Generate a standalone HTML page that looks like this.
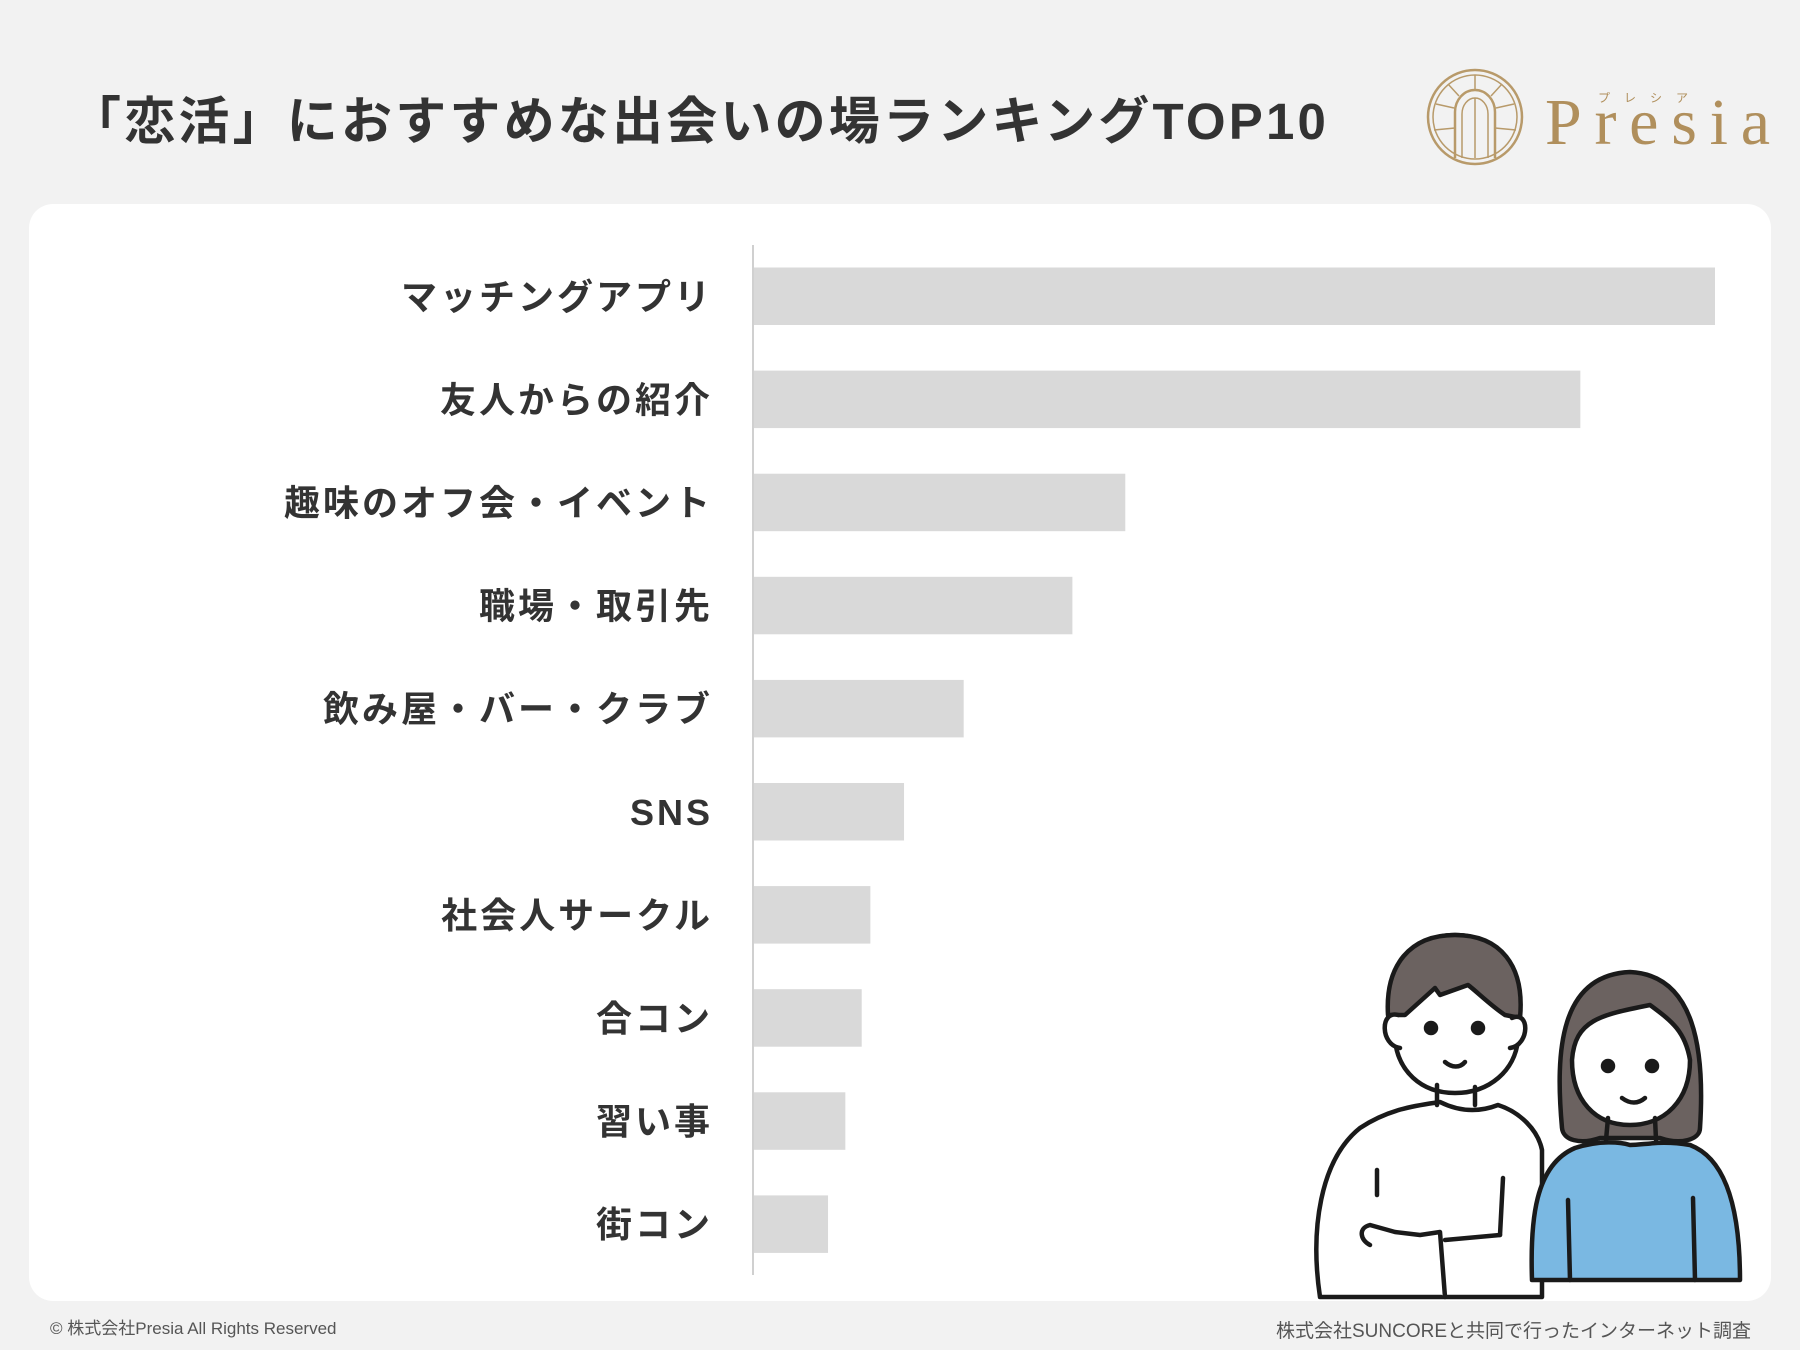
<!DOCTYPE html>
<html><head><meta charset="utf-8"><style>
html,body{margin:0;padding:0;}
body{width:1800px;height:1350px;background:#f2f2f2;position:relative;overflow:hidden;font-family:"Liberation Sans","Noto Sans CJK JP",sans-serif;}
#title{position:absolute;left:70px;top:80px;font-size:51px;font-weight:bold;color:#333;letter-spacing:3.2px;white-space:nowrap;}
#card{position:absolute;left:29px;top:204px;width:1742px;height:1097px;background:#fff;border-radius:24px;}
.foot{position:absolute;font-size:17px;color:#555;white-space:nowrap;}
svg{position:absolute;left:0;top:0;}
</style></head><body>
<div id="title">「恋活」におすすめな出会いの場ランキングTOP10</div>
<div id="card"></div>
<div class="foot" style="left:50px;top:1314px;">© 株式会社Presia All Rights Reserved</div>
<div class="foot" style="right:49px;top:1316px;font-size:19px;">株式会社SUNCOREと共同で行ったインターネット調査</div>
<svg id="chart" width="1800" height="1350">
 <g id="logo" stroke="#b89a6a" fill="none" stroke-width="2.5">
  <circle cx="1475" cy="117" r="47"/>
  <circle cx="1475" cy="117" r="42" stroke-width="1.5"/>
  <path d="M1455 158 V112 A20 22 0 0 1 1495 112 V158"/>
  <path d="M1462 158 V114 A13 16 0 0 1 1488 114 V158" stroke-width="1.5"/>
  <line x1="1475" y1="98" x2="1475" y2="158" stroke-width="1.5"/>
  <line x1="1475" y1="75" x2="1475" y2="90" stroke-width="1.5"/>
  <line x1="1436" y1="104" x2="1454" y2="108" stroke-width="1.5"/>
  <line x1="1514" y1="104" x2="1496" y2="108" stroke-width="1.5"/>
  <line x1="1448" y1="84" x2="1459" y2="96" stroke-width="1.5"/>
  <line x1="1502" y1="84" x2="1491" y2="96" stroke-width="1.5"/>
  <line x1="1434" y1="130" x2="1455" y2="128" stroke-width="1.5"/>
  <line x1="1516" y1="130" x2="1495" y2="128" stroke-width="1.5"/>
 </g>
 <text x="1545" y="144" font-family="Liberation Serif,serif" font-size="66" fill="#b08f5c" textLength="225">Presia</text>
 <text x="1598" y="102" font-family="Liberation Sans,'Noto Sans CJK JP',sans-serif" font-size="12" fill="#b08f5c" letter-spacing="14">プレシア</text>
 <g id="bars"></g>
 <line x1="753" y1="245" x2="753" y2="1275" stroke="#d0d0d0" stroke-width="2"/>
 <g id="people" stroke="#1a1a1a" stroke-width="4.5" stroke-linecap="round" stroke-linejoin="round">
  <path d="M1320 1297 C1310 1230 1320 1160 1360 1128 C1390 1108 1420 1105 1440 1102 C1460 1112 1480 1112 1498 1105 C1520 1112 1538 1130 1542 1150 L1542 1297 Z" fill="#fff"/>
  <path d="M1370 1245 C1360 1240 1358 1228 1370 1225 L1395 1232 L1420 1235 L1440 1232 L1445 1297" fill="#fff"/>
  <line x1="1377" y1="1170" x2="1377" y2="1195"/>
  <line x1="1503" y1="1178" x2="1500" y2="1235"/>
  <path d="M1445 1240 L1500 1235"/>
  <path d="M1395 1040 C1385 975 1410 935 1455 935 C1500 935 1525 975 1518 1040 C1515 1070 1490 1093 1455 1093 C1420 1093 1398 1070 1395 1040 Z" fill="#fff"/>
  <path d="M1388 1015 C1385 965 1410 935 1455 935 C1500 935 1525 965 1520 1018 L1505 1015 C1490 1005 1475 990 1468 985 L1440 995 L1435 988 L1405 1015 Z" fill="#6b6260"/>
  <path d="M1398 1015 C1380 1010 1380 1045 1400 1048" fill="#fff"/>
  <path d="M1512 1018 C1530 1010 1530 1045 1510 1048" fill="#fff"/>
  <line x1="1437" y1="1085" x2="1437" y2="1105"/>
  <line x1="1475" y1="1087" x2="1475" y2="1105"/>
  <circle cx="1431" cy="1028" r="5" fill="#1a1a1a"/>
  <circle cx="1478" cy="1028" r="5" fill="#1a1a1a"/>
  <path d="M1445 1062 C1452 1068 1460 1068 1465 1062" fill="none"/>
  <path d="M1562 1128 C1555 1050 1560 975 1630 972 C1695 975 1705 1050 1700 1128 C1700 1140 1680 1145 1660 1138 L1600 1138 C1580 1145 1563 1140 1562 1128 Z" fill="#6b6260"/>
  <path d="M1532 1280 C1530 1220 1535 1165 1575 1148 C1600 1140 1620 1142 1630 1145 C1645 1145 1660 1140 1690 1145 C1730 1160 1740 1220 1740 1280 Z" fill="#7ab8e2"/>
  <line x1="1568" y1="1200" x2="1570" y2="1280"/>
  <line x1="1693" y1="1198" x2="1695" y2="1280"/>
  <path d="M1572 1060 C1575 1020 1600 1015 1650 1005 C1670 1020 1685 1030 1690 1060 C1690 1100 1665 1125 1630 1125 C1595 1125 1572 1100 1572 1060 Z" fill="#fff"/>
  <line x1="1608" y1="1118" x2="1606" y2="1140"/>
  <line x1="1655" y1="1118" x2="1656" y2="1140"/>
  <circle cx="1608" cy="1066" r="5" fill="#1a1a1a"/>
  <circle cx="1652" cy="1066" r="5" fill="#1a1a1a"/>
  <path d="M1622 1098 C1630 1104 1638 1104 1645 1098" fill="none"/>
 </g>
</svg>
<script>
const categories=["マッチングアプリ","友人からの紹介","趣味のオフ会・イベント","職場・取引先","飲み屋・バー・クラブ","SNS","社会人サークル","合コン","習い事","街コン"];
const values=[100,86,38.7,33.2,21.9,15.7,12.2,11.3,9.6,7.8];
const maxValue=100;
const x0=753,x1=1715,y0=267.5,step=103.1,bh=57.5;
function xScale(v){return x0+(x1-x0)*v/maxValue;}
function yScale(i){return y0+step*i;}
const g=document.getElementById('bars');
const ns="http://www.w3.org/2000/svg";
categories.forEach((c,i)=>{
 const r=document.createElementNS(ns,'rect');
 r.setAttribute('x',x0);r.setAttribute('y',yScale(i));
 r.setAttribute('width',xScale(values[i])-x0);r.setAttribute('height',bh);
 r.setAttribute('fill','#d9d9d9');
 
 
 g.appendChild(r);
 const t=document.createElementNS(ns,'text');
 t.setAttribute('x',713);t.setAttribute('y',yScale(i)+bh/2+13);
 t.setAttribute('text-anchor','end');
 t.setAttribute('font-size','36');t.setAttribute('font-weight','bold');
 t.setAttribute('fill','#333');t.setAttribute('letter-spacing','3');
 t.setAttribute('font-family','"Liberation Sans","Noto Sans CJK JP",sans-serif');
 t.textContent=c;
 
 
 g.appendChild(t);
});
</script>
</body></html>
